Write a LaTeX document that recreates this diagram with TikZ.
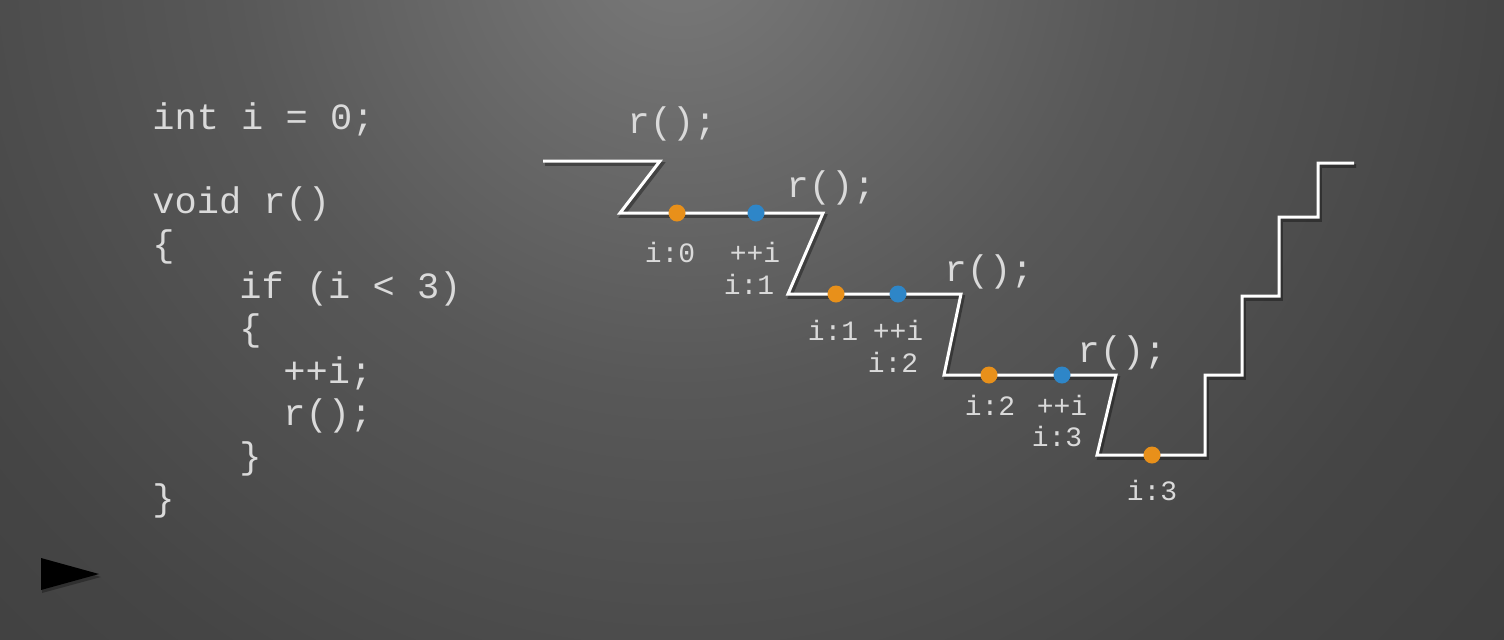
\documentclass[tikz,border=0pt]{standalone}
\usepackage{fontspec}
\setmonofont{Liberation Mono}
\definecolor{txt}{HTML}{DADADA}
\definecolor{dotor}{HTML}{E8901A}
\definecolor{dotbl}{HTML}{2E86C8}
\definecolor{bgin}{HTML}{7A7A7A}
\definecolor{bgmid}{HTML}{585858}
\definecolor{bgmid2}{HTML}{454545}
\definecolor{bgmid3}{HTML}{393939}
\definecolor{bgout}{HTML}{2C2C2C}
\pgfdeclareradialshading{bgshade}{\pgfpoint{0bp}{0bp}}{color(0bp)=(bgin); color(8bp)=(bgmid); color(15bp)=(bgmid2); color(24bp)=(bgmid3); color(50bp)=(bgout)}
\tikzset{
  code/.style={anchor=base west, text=txt, inner sep=0pt, font=\ttfamily\fontsize{18.5}{22}\selectfont},
  call/.style={anchor=base, text=txt, inner sep=0pt, font=\ttfamily\fontsize{18.5}{22}\selectfont},
  lbl/.style={anchor=base, text=txt, inner sep=0pt, font=\ttfamily\fontsize{14}{16}\selectfont},
  track/.style={draw=white, line width=1.5pt, line join=miter},
  trackshadow/.style={draw=black, opacity=0.35, line width=1.8pt},
  dot/.style={circle, inner sep=0pt, minimum size=8.5pt},
  odot/.style={dot, fill=dotor},
  bdot/.style={dot, fill=dotbl},
}
\begin{document}
\begin{tikzpicture}[x=0.5pt, y=-0.5pt]
\useasboundingbox (0,0) rectangle (1504,639);
\begin{scope}
\clip (0,0) rectangle (1504,639);
\fill[bgout] (0,0) rectangle (1504,639);
\fill[shading=bgshade] (680,-60) circle [radius=1400];
\end{scope}

% code
\node[code] (c1) at (152,129) {int i = 0;};
\node[code] (c2) at (152,213) {void r()};
\node[code] (c3) at (152,256) {\{};
\node[code] (c4) at (239,298) {if (i < 3)};
\node[code] (c5) at (239,340) {\{};
\node[code] (c6) at (283,383) {++i;};
\node[code] (c7) at (283,425) {r();};
\node[code] (c8) at (239,468) {\}};
\node[code] (c9) at (152,510) {\}};

% track coordinates
\coordinate (p0) at (543,161);
\coordinate (p1) at (660,161);
\coordinate (p2) at (620,213);
\coordinate (p3) at (823,213);
\coordinate (p4) at (788,294);
\coordinate (p5) at (961,294);
\coordinate (p6) at (944,375);
\coordinate (p7) at (1116,375);
\coordinate (p8) at (1097,455);
\coordinate (p9) at (1205,455);
\coordinate (p10) at (1205,375);
\coordinate (p11) at (1242,375);
\coordinate (p12) at (1242,296);
\coordinate (p13) at (1279,296);
\coordinate (p14) at (1279,217);
\coordinate (p15) at (1318,217);
\coordinate (p16) at (1318,163);
\coordinate (p17) at (1354,163);

\draw[trackshadow] ([shift={(2,3)}]p0) -- ([shift={(2,3)}]p1) -- ([shift={(2,3)}]p2) -- ([shift={(2,3)}]p3) -- ([shift={(2,3)}]p4) -- ([shift={(2,3)}]p5) -- ([shift={(2,3)}]p6) -- ([shift={(2,3)}]p7) -- ([shift={(2,3)}]p8) -- ([shift={(2,3)}]p9) -- ([shift={(2,3)}]p10) -- ([shift={(2,3)}]p11) -- ([shift={(2,3)}]p12) -- ([shift={(2,3)}]p13) -- ([shift={(2,3)}]p14) -- ([shift={(2,3)}]p15) -- ([shift={(2,3)}]p16) -- ([shift={(2,3)}]p17);
\draw[track] (p0) -- (p1) -- (p2) -- (p3) -- (p4) -- (p5) -- (p6) -- (p7) -- (p8) -- (p9) -- (p10) -- (p11) -- (p12) -- (p13) -- (p14) -- (p15) -- (p16) -- (p17);

% dots
\node[odot] (o1) at (677,213) {};
\node[bdot] (b1) at (756,213) {};
\node[odot] (o2) at (836,294) {};
\node[bdot] (b2) at (898,294) {};
\node[odot] (o3) at (989,375) {};
\node[bdot] (b3) at (1062,375) {};
\node[odot] (o4) at (1152,455) {};

% calls
\node[call] (r1) at (672,133) {r();};
\node[call] (r2) at (831,197) {r();};
\node[call] (r3) at (989,281) {r();};
\node[call] (r4) at (1122,362) {r();};

% labels
\node[lbl] (l1) at (670,262) {i:0};
\node[lbl] (l2) at (755,262) {++i};
\node[lbl] (l3) at (749,294) {i:1};
\node[lbl] (l4) at (833,340) {i:1};
\node[lbl] (l5) at (898,340) {++i};
\node[lbl] (l6) at (893,372) {i:2};
\node[lbl] (l7) at (990,415) {i:2};
\node[lbl] (l8) at (1062,415) {++i};
\node[lbl] (l9) at (1057,446) {i:3};
\node[lbl] (l10) at (1152,500) {i:3};

% play triangle
\fill[black, opacity=0.3] (42,560) -- (42,593) -- (101,577) -- cycle;
\fill[black] (41,558) -- (41,590) -- (99,574) -- cycle;
\end{tikzpicture}
\end{document}
